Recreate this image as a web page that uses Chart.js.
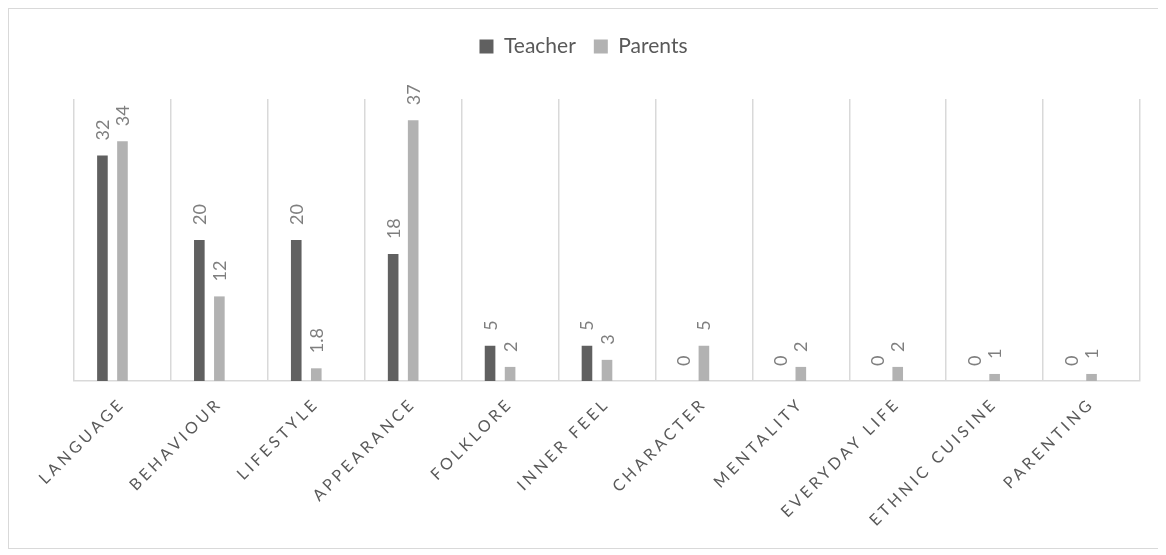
<!DOCTYPE html>
<html>
<head>
    <title>Teacher vs Parents</title>
    <script src="https://cdn.jsdelivr.net/npm/chart.js"></script>
    <style>
        body { margin: 8px; background: #fff; }
        #wrap { width: 1149px; height: 539px; border: 1px solid #d9d9d9; }
    </style>
</head>
<body>

<div id="wrap"><canvas id="myChart"></canvas></div>

<script>
    var categories = ['LANGUAGE', 'BEHAVIOUR', 'LIFESTYLE', 'APPEARANCE', 'FOLKLORE', 'INNER FEEL',
        'CHARACTER', 'MENTALITY', 'EVERYDAY LIFE', 'ETHNIC CUISINE', 'PARENTING'];
    var teacherValues = [32, 20, 20, 18, 5, 5, 0, 0, 0, 0, 0];
    var parentsValues = [34, 12, 1.8, 37, 2, 3, 5, 2, 2, 1, 1];
    // empty third series, it only keeps the slot Excel left to the right of each pair
    var spacerValues = categories.map(function () { return null; });

    var teacherColor = '#606060';
    var parentsColor = '#b2b2b2';

    var ctx = document.getElementById('myChart').getContext('2d');

    // draws the rotated value labels above each bar
    var valueLabels = {
        id: 'valueLabels',
        afterDatasetsDraw(chart) {
            var c = chart.ctx;
            c.save();
            c.font = '18px Lato';
            c.fillStyle = '#7f7f7f';
            c.textAlign = 'left';
            c.textBaseline = 'alphabetic';
            [0, 1].forEach(function (i) {
                var meta = chart.getDatasetMeta(i);
                meta.data.forEach(function (bar, j) {
                    var v = chart.data.datasets[i].data[j];
                    if (v === null) return;
                    c.save();
                    c.translate(bar.x, bar.y - 15);
                    c.rotate(-Math.PI / 2);
                    c.fillText(String(v), 0, 6.5);
                    c.restore();
                });
            });
            c.restore();
        }
    };

    // letter spacing on the category labels, more room under the legend,
    // and the legend centred on the whole canvas rather than the padded area
    var spacing = {
        id: 'spacing',
        beforeInit(chart) {
            var fit = chart.legend.fit;
            chart.legend.fit = function () {
                fit.bind(chart.legend)();
                this.height += 32;
            };
        },
        afterLayout(chart) {
            var lg = chart.legend;
            var delta = chart.width / 2 - (lg.left + lg.right) / 2;
            lg.left += delta;
            lg.right += delta;
        },
        afterUpdate(chart) {
            var x = chart.scales.x;
            if (x._spaced) return;
            x._spaced = true;
            var draw = x.drawLabels;
            x.drawLabels = function (area) {
                chart.ctx.save();
                chart.ctx.letterSpacing = '3.5px';
                draw.call(this, area);
                chart.ctx.restore();
            };
        }
    };

    var myChart = new Chart(ctx, {
        type: 'bar',
        data: {
            labels: categories,
            datasets: [{
                label: 'Teacher',
                data: teacherValues,
                backgroundColor: teacherColor
            }, {
                label: 'Parents',
                data: parentsValues,
                backgroundColor: parentsColor
            }, {
                label: '',
                data: spacerValues,
                backgroundColor: 'rgba(0,0,0,0)'
            }]
        },
        options: {
            responsive: true,
            maintainAspectRatio: false,
            animation: false,
            categoryPercentage: 0.62,
            barPercentage: 0.53,
            layout: {
                padding: { top: 9, left: 65, right: 18, bottom: 0 }
            },
            scales: {
                x: {
                    grid: {
                        offset: true,
                        color: '#d9d9d9',
                        lineWidth: 1.5,
                        drawTicks: false
                    },
                    border: { color: '#d9d9d9', width: 1.5 },
                    ticks: {
                        autoSkip: false,
                        minRotation: 45,
                        maxRotation: 45,
                        padding: 13,
                        color: '#595959',
                        font: { family: 'Lato', size: 16 }
                    },
                    afterFit(scale) {
                        scale.height = 167;
                    }
                },
                y: {
                    display: false,
                    min: 0,
                    max: 40
                }
            },
            plugins: {
                legend: {
                    position: 'top',
                    labels: {
                        boxWidth: 14,
                        boxHeight: 14,
                        padding: 18,
                        color: '#595959',
                        font: { family: 'Lato', size: 21 },
                        filter: function (item) { return item.datasetIndex < 2; }
                    }
                },
                tooltip: { enabled: false }
            }
        },
        plugins: [valueLabels, spacing]
    });
</script>

</body>
</html>
